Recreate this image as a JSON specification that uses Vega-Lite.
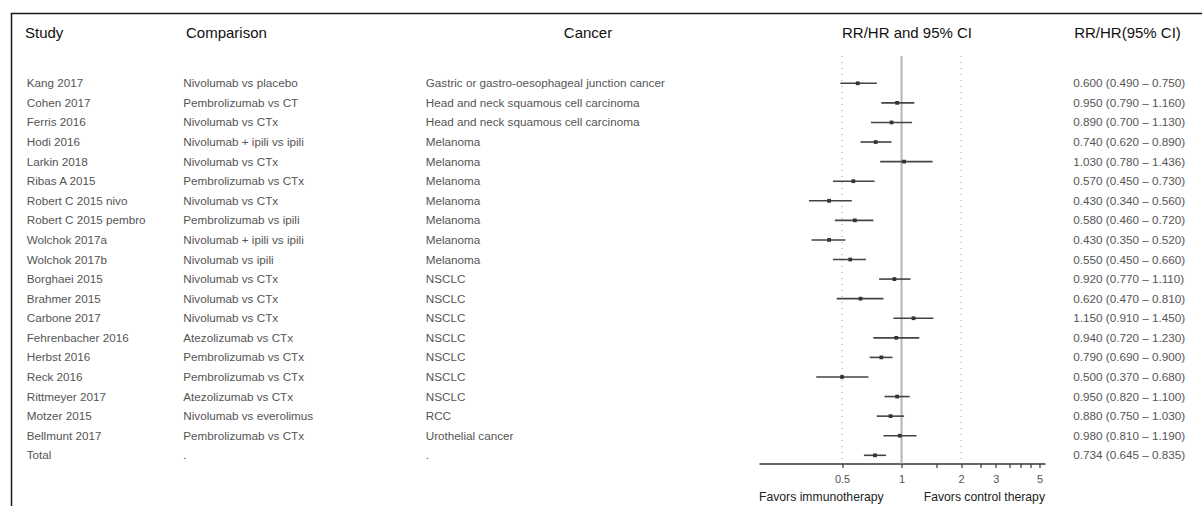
{
  "$schema": "https://vega.github.io/schema/vega-lite/v6.json",
  "width": 1202,
  "height": 506,
  "autosize": {"type": "fit", "contains": "padding"},
  "padding": {"left": 11.5, "top": 13.5, "right": -2, "bottom": -2},
  "background": "white",
  "config": {"font": "Liberation Sans", "view": {"stroke": "#1a1a1a", "strokeWidth": 1.5}},
  "datasets": {
    "studies": [
      {"row": 1, "study": "Kang 2017", "comparison": "Nivolumab vs placebo", "cancer": "Gastric or gastro-oesophageal junction cancer", "est": 0.600, "lo": 0.490, "hi": 0.750, "ci": "0.600 (0.490 – 0.750)"},
      {"row": 2, "study": "Cohen 2017", "comparison": "Pembrolizumab vs CT", "cancer": "Head and neck squamous cell carcinoma", "est": 0.950, "lo": 0.790, "hi": 1.160, "ci": "0.950 (0.790 – 1.160)"},
      {"row": 3, "study": "Ferris 2016", "comparison": "Nivolumab vs CTx", "cancer": "Head and neck squamous cell carcinoma", "est": 0.890, "lo": 0.700, "hi": 1.130, "ci": "0.890 (0.700 – 1.130)"},
      {"row": 4, "study": "Hodi 2016", "comparison": "Nivolumab + ipili vs ipili", "cancer": "Melanoma", "est": 0.740, "lo": 0.620, "hi": 0.890, "ci": "0.740 (0.620 – 0.890)"},
      {"row": 5, "study": "Larkin 2018", "comparison": "Nivolumab vs CTx", "cancer": "Melanoma", "est": 1.030, "lo": 0.780, "hi": 1.436, "ci": "1.030 (0.780 – 1.436)"},
      {"row": 6, "study": "Ribas A 2015", "comparison": "Pembrolizumab vs CTx", "cancer": "Melanoma", "est": 0.570, "lo": 0.450, "hi": 0.730, "ci": "0.570 (0.450 – 0.730)"},
      {"row": 7, "study": "Robert C 2015 nivo", "comparison": "Nivolumab vs CTx", "cancer": "Melanoma", "est": 0.430, "lo": 0.340, "hi": 0.560, "ci": "0.430 (0.340 – 0.560)"},
      {"row": 8, "study": "Robert C 2015 pembro", "comparison": "Pembrolizumab vs ipili", "cancer": "Melanoma", "est": 0.580, "lo": 0.460, "hi": 0.720, "ci": "0.580 (0.460 – 0.720)"},
      {"row": 9, "study": "Wolchok 2017a", "comparison": "Nivolumab + ipili vs ipili", "cancer": "Melanoma", "est": 0.430, "lo": 0.350, "hi": 0.520, "ci": "0.430 (0.350 – 0.520)"},
      {"row": 10, "study": "Wolchok 2017b", "comparison": "Nivolumab vs ipili", "cancer": "Melanoma", "est": 0.550, "lo": 0.450, "hi": 0.660, "ci": "0.550 (0.450 – 0.660)"},
      {"row": 11, "study": "Borghaei 2015", "comparison": "Nivolumab vs CTx", "cancer": "NSCLC", "est": 0.920, "lo": 0.770, "hi": 1.110, "ci": "0.920 (0.770 – 1.110)"},
      {"row": 12, "study": "Brahmer 2015", "comparison": "Nivolumab vs CTx", "cancer": "NSCLC", "est": 0.620, "lo": 0.470, "hi": 0.810, "ci": "0.620 (0.470 – 0.810)"},
      {"row": 13, "study": "Carbone 2017", "comparison": "Nivolumab vs CTx", "cancer": "NSCLC", "est": 1.150, "lo": 0.910, "hi": 1.450, "ci": "1.150 (0.910 – 1.450)"},
      {"row": 14, "study": "Fehrenbacher 2016", "comparison": "Atezolizumab vs CTx", "cancer": "NSCLC", "est": 0.940, "lo": 0.720, "hi": 1.230, "ci": "0.940 (0.720 – 1.230)"},
      {"row": 15, "study": "Herbst 2016", "comparison": "Pembrolizumab vs CTx", "cancer": "NSCLC", "est": 0.790, "lo": 0.690, "hi": 0.900, "ci": "0.790 (0.690 – 0.900)"},
      {"row": 16, "study": "Reck 2016", "comparison": "Pembrolizumab vs CTx", "cancer": "NSCLC", "est": 0.500, "lo": 0.370, "hi": 0.680, "ci": "0.500 (0.370 – 0.680)"},
      {"row": 17, "study": "Rittmeyer 2017", "comparison": "Atezolizumab vs CTx", "cancer": "NSCLC", "est": 0.950, "lo": 0.820, "hi": 1.100, "ci": "0.950 (0.820 – 1.100)"},
      {"row": 18, "study": "Motzer 2015", "comparison": "Nivolumab vs everolimus", "cancer": "RCC", "est": 0.880, "lo": 0.750, "hi": 1.030, "ci": "0.880 (0.750 – 1.030)"},
      {"row": 19, "study": "Bellmunt 2017", "comparison": "Pembrolizumab vs CTx", "cancer": "Urothelial cancer", "est": 0.980, "lo": 0.810, "hi": 1.190, "ci": "0.980 (0.810 – 1.190)"},
      {"row": 20, "study": "Total", "comparison": ".", "cancer": ".", "est": 0.734, "lo": 0.645, "hi": 0.835, "ci": "0.734 (0.645 – 0.835)"}
    ],
    "headers": [
      {"header": "Study"},
      {"header": "Comparison"},
      {"header": "Cancer"},
      {"header": "RR/HR and 95% CI"},
      {"header": "RR/HR(95% CI)"}
    ]
  },
  "data": {"name": "studies"},
  "resolve": {"scale": {"x": "independent"}},
  "layer": [
    {
      "mark": {"type": "text", "align": "left", "baseline": "middle", "fontSize": 11.7, "color": "#555"},
      "encoding": {
        "x": {"datum": "Study", "type": "nominal", "scale": {"type": "point", "range": [15.2, 15.2]}, "axis": null},
        "y": {"field": "row", "type": "quantitative", "scale": {"domain": [1, 20], "range": [69.8, 441.8], "nice": false, "zero": false}, "axis": null},
        "text": {"field": "study"}
      }
    },
    {
      "mark": {"type": "text", "align": "left", "baseline": "middle", "fontSize": 11.7, "color": "#555"},
      "encoding": {
        "x": {"datum": "Comparison", "type": "nominal", "scale": {"type": "point", "range": [171.8, 171.8]}, "axis": null},
        "y": {"field": "row", "type": "quantitative", "scale": {"domain": [1, 20], "range": [69.8, 441.8], "nice": false, "zero": false}, "axis": null},
        "text": {"field": "comparison"}
      }
    },
    {
      "mark": {"type": "text", "align": "left", "baseline": "middle", "fontSize": 11.7, "color": "#555"},
      "encoding": {
        "x": {"datum": "Cancer", "type": "nominal", "scale": {"type": "point", "range": [414.2, 414.2]}, "axis": null},
        "y": {"field": "row", "type": "quantitative", "scale": {"domain": [1, 20], "range": [69.8, 441.8], "nice": false, "zero": false}, "axis": null},
        "text": {"field": "cancer"}
      }
    },
    {
      "mark": {"type": "text", "align": "left", "baseline": "middle", "fontSize": 11.7, "color": "#555"},
      "encoding": {
        "x": {"datum": "RR/HR(95% CI)", "type": "nominal", "scale": {"type": "point", "range": [1061.8, 1061.8]}, "axis": null},
        "y": {"field": "row", "type": "quantitative", "scale": {"domain": [1, 20], "range": [69.8, 441.8], "nice": false, "zero": false}, "axis": null},
        "text": {"field": "ci"}
      }
    },
    {
      "data": {"name": "headers"},
      "transform": [{"filter": "datum.header == 'Study'"}],
      "mark": {"type": "text", "align": "left", "baseline": "middle", "fontSize": 15, "color": "#111"},
      "encoding": {
        "x": {"field": "header", "type": "nominal", "scale": {"type": "point", "range": [13.5, 13.5]}, "axis": null},
        "y": {"datum": -1.594, "type": "quantitative", "scale": {"domain": [1, 20], "range": [69.8, 441.8], "nice": false, "zero": false}, "axis": null},
        "text": {"field": "header"}
      }
    },
    {
      "data": {"name": "headers"},
      "transform": [{"filter": "datum.header == 'Comparison'"}],
      "mark": {"type": "text", "align": "left", "baseline": "middle", "fontSize": 15, "color": "#111"},
      "encoding": {
        "x": {"field": "header", "type": "nominal", "scale": {"type": "point", "range": [174.5, 174.5]}, "axis": null},
        "y": {"datum": -1.594, "type": "quantitative", "scale": {"domain": [1, 20], "range": [69.8, 441.8], "nice": false, "zero": false}, "axis": null},
        "text": {"field": "header"}
      }
    },
    {
      "data": {"name": "headers"},
      "transform": [{"filter": "datum.header == 'Cancer'"}],
      "mark": {"type": "text", "align": "center", "baseline": "middle", "fontSize": 15, "color": "#111"},
      "encoding": {
        "x": {"field": "header", "type": "nominal", "scale": {"type": "point", "range": [576.5, 576.5]}, "axis": null},
        "y": {"datum": -1.594, "type": "quantitative", "scale": {"domain": [1, 20], "range": [69.8, 441.8], "nice": false, "zero": false}, "axis": null},
        "text": {"field": "header"}
      }
    },
    {
      "data": {"name": "headers"},
      "transform": [{"filter": "datum.header == 'RR/HR and 95% CI'"}],
      "mark": {"type": "text", "align": "center", "baseline": "middle", "fontSize": 15, "color": "#111"},
      "encoding": {
        "x": {"field": "header", "type": "nominal", "scale": {"type": "point", "range": [895.5, 895.5]}, "axis": null},
        "y": {"datum": -1.594, "type": "quantitative", "scale": {"domain": [1, 20], "range": [69.8, 441.8], "nice": false, "zero": false}, "axis": null},
        "text": {"field": "header"}
      }
    },
    {
      "data": {"name": "headers"},
      "transform": [{"filter": "datum.header == 'RR/HR(95% CI)'"}],
      "mark": {"type": "text", "align": "center", "baseline": "middle", "fontSize": 15, "color": "#111"},
      "encoding": {
        "x": {"field": "header", "type": "nominal", "scale": {"type": "point", "range": [1116, 1116]}, "axis": null},
        "y": {"datum": -1.594, "type": "quantitative", "scale": {"domain": [1, 20], "range": [69.8, 441.8], "nice": false, "zero": false}, "axis": null},
        "text": {"field": "header"}
      }
    },
    {
      "layer": [
        {
          "data": {"values": [{"ref": 0.5}, {"ref": 2}]},
          "mark": {"type": "rule", "strokeDash": [1, 5], "color": "#9a9a9a", "strokeWidth": 1},
          "encoding": {
            "x": {
              "field": "ref", "type": "quantitative",
              "scale": {"type": "log", "domain": [0.19, 5.32], "range": [747.5, 1033.5], "nice": false},
              "axis": {
                "orient": "bottom", "offset": -44.5, "title": null, "grid": false,
                "values": [0.5, 1, 1.5, 2, 2.5, 3, 3.5, 4, 4.5, 5],
                "format": "~g",
                "labelExpr": "indexof([0.5, 1, 2, 3, 5], datum.value) >= 0 ? datum.label : ''",
                "domainColor": "#333", "domainWidth": 1.5,
                "tickColor": "#333", "tickWidth": 1.2, "tickSize": 4,
                "labelFontSize": 11, "labelColor": "#555", "labelPadding": 6,
                "labelFlush": false, "labelOverlap": false, "labelBound": false
              }
            },
            "y": {"datum": -0.394, "type": "quantitative", "scale": {"domain": [1, 20], "range": [69.8, 441.8], "nice": false, "zero": false}, "axis": null},
            "y2": {"datum": 20.418}
          }
        },
        {
          "data": {"values": [{"ref": 1}]},
          "mark": {"type": "rule", "color": "#b5b5b5", "strokeWidth": 2},
          "encoding": {
            "x": {"field": "ref", "type": "quantitative"},
            "y": {"datum": -0.394, "type": "quantitative", "scale": {"domain": [1, 20], "range": [69.8, 441.8], "nice": false, "zero": false}, "axis": null},
            "y2": {"datum": 20.418}
          }
        },
        {
          "mark": {"type": "rule", "color": "#444", "strokeWidth": 1.6},
          "encoding": {
            "x": {"field": "lo", "type": "quantitative"},
            "x2": {"field": "hi"},
            "y": {"field": "row", "type": "quantitative", "scale": {"domain": [1, 20], "range": [69.8, 441.8], "nice": false, "zero": false}, "axis": null}
          }
        },
        {
          "mark": {"type": "point", "shape": "square", "filled": true, "size": 14, "color": "#333", "opacity": 1},
          "encoding": {
            "x": {"field": "est", "type": "quantitative"},
            "y": {"field": "row", "type": "quantitative", "scale": {"domain": [1, 20], "range": [69.8, 441.8], "nice": false, "zero": false}, "axis": null}
          }
        },
        {
          "data": {"values": [{"side": "Favors immunotherapy"}]},
          "mark": {"type": "text", "align": "left", "baseline": "middle", "fontSize": 12.2, "color": "#222"},
          "encoding": {
            "x": {"datum": 0.19, "type": "quantitative"},
            "y": {"datum": 22.13, "type": "quantitative", "scale": {"domain": [1, 20], "range": [69.8, 441.8], "nice": false, "zero": false}, "axis": null},
            "text": {"field": "side"}
          }
        },
        {
          "data": {"values": [{"side": "Favors control therapy"}]},
          "mark": {"type": "text", "align": "right", "baseline": "middle", "fontSize": 12.2, "color": "#222"},
          "encoding": {
            "x": {"datum": 5.32, "type": "quantitative"},
            "y": {"datum": 22.13, "type": "quantitative", "scale": {"domain": [1, 20], "range": [69.8, 441.8], "nice": false, "zero": false}, "axis": null},
            "text": {"field": "side"}
          }
        }
      ]
    }
  ]
}
